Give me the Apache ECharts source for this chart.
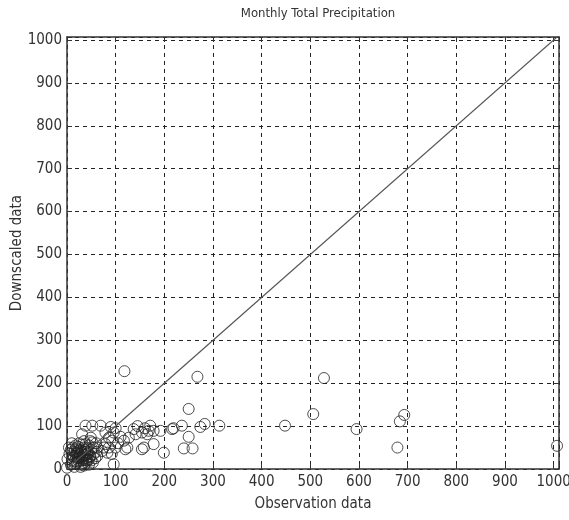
<!DOCTYPE html>
<html>
<head>
<meta charset="utf-8">
<title>Monthly Total Precipitation</title>
<script src="https://cdn.jsdelivr.net/npm/echarts@6/dist/echarts.min.js"></script>
<style>
  html, body { margin: 0; padding: 0; background: #fff; }
  #chart { width: 569px; height: 520px; }
</style>
</head>
<body>
<div id="chart"></div>
<script>
var obsData = [
  118, 268, 528, 250, 236, 274, 283, 313, 250, 240, 258, 448, 506, 595, 693, 684, 679, 1007, 219, 199, 216, 192,
  154, 171, 165, 178, 168, 141, 154, 117, 127, 100, 120, 96, 96, 137, 92, 124, 158, 178, 76, 83,
  38, 52, 69, 31, 49, 79, 86, 93, 62, 72, 79, 86, 4, 1, 0, 160, 145, 110, 105, 90, 100,
  8, 10, 12, 15, 18, 20, 22, 25, 25, 28, 30, 30, 32, 35, 35, 38, 40, 40, 42, 45, 45, 48, 50, 50,
  52, 55, 58, 60, 15, 20, 10, 5, 28, 35, 42, 48, 55, 18, 22, 12, 38, 30, 25, 45, 60, 62, 15, 8,
  14, 17, 21, 24, 27, 31, 34, 37, 41, 44, 19, 26, 33, 29, 23, 36, 16, 39, 47, 53
];
var downData = [
  228, 215, 212, 140, 101, 98, 105, 101, 75, 48, 48, 101, 128, 93, 126, 111, 50, 54, 95, 38, 93, 89,
  85, 101, 81, 89, 89, 81, 46, 66, 73, 50, 46, 11, 85, 93, 35, 50, 50, 58, 50, 38,
  101, 101, 101, 81, 73, 85, 73, 66, 50, 42, 58, 50, 50, 23, 3, 95, 100, 75, 60, 98, 95,
  10, 20, 30, 40, 55, 15, 25, 35, 60, 45, 10, 20, 30, 50, 65, 40, 15, 25, 35, 55, 10, 30, 20, 45,
  62, 35, 25, 40, 5, 48, 60, 35, 5, 8, 48, 65, 50, 30, 42, 50, 58, 38, 25, 22, 60, 30, 18, 45,
  28, 12, 38, 18, 32, 26, 14, 44, 20, 38, 35, 28, 22, 42, 52, 32, 45, 20, 28, 15
];
var oneToOne = [0, 1011];
var tickStep = 100;

var points = obsData.map(function (v, i) { return [v, downData[i]]; });
var lineData = oneToOne.map(function (v) { return [v, v]; });

var labelFont = {
  fontFamily: "'DejaVu Sans Condensed', 'Liberation Sans Narrow', sans-serif",
  fontSize: 15,
  color: '#333'
};
var dashed = { show: true, lineStyle: { color: '#222', type: [4, 4], width: 1 } };
var frame = { show: true, onZero: false, lineStyle: { color: '#333', width: 1.5 } };
var inTick = { show: true, inside: true, length: 5, lineStyle: { color: '#333' } };
var hundredsOnly = function (v) { return v % tickStep === 0 ? String(v) : ''; };

var myChart = echarts.init(document.getElementById('chart'));
myChart.setOption({
  animation: false,
  title: {
    text: 'Monthly Total Precipitation',
    left: 313,
    top: 2,
    textAlign: 'center',
    textStyle: {
      fontFamily: labelFont.fontFamily,
      fontSize: 13,
      fontWeight: 'normal',
      color: '#333'
    }
  },
  grid: { left: 67, right: 10, top: 37, bottom: 51, outerBoundsMode: 'none' },
  xAxis: [
    {
      type: 'value',
      min: 0,
      max: 1011,
      interval: tickStep,
      name: 'Observation data',
      nameLocation: 'middle',
      nameGap: 28,
      nameMoveOverlap: false,
      nameTextStyle: labelFont,
      axisLine: frame,
      axisTick: inTick,
      axisLabel: Object.assign({ margin: 6, formatter: hundredsOnly }, labelFont),
      splitLine: dashed
    },
    {
      type: 'value',
      position: 'top',
      min: 0,
      max: 1011,
      interval: tickStep,
      axisLine: frame,
      axisTick: inTick,
      axisLabel: { show: false },
      splitLine: { show: false }
    }
  ],
  yAxis: [
    {
      type: 'value',
      min: 0,
      max: 1007,
      interval: tickStep,
      name: 'Downscaled data',
      nameLocation: 'middle',
      nameGap: 42,
      nameMoveOverlap: false,
      nameTextStyle: labelFont,
      axisLine: frame,
      axisTick: inTick,
      axisLabel: Object.assign({ margin: 5, formatter: hundredsOnly }, labelFont),
      splitLine: dashed
    },
    {
      type: 'value',
      position: 'right',
      min: 0,
      max: 1007,
      interval: tickStep,
      axisLine: frame,
      axisTick: inTick,
      axisLabel: { show: false },
      splitLine: { show: false }
    }
  ],
  series: [
    {
      type: 'line',
      data: lineData,
      symbol: 'none',
      clip: true,
      lineStyle: { color: '#555', width: 1.2 },
      silent: true
    },
    {
      type: 'scatter',
      data: points,
      symbol: 'circle',
      symbolSize: 11,
      itemStyle: {
        color: 'rgba(255,255,255,0)',
        borderColor: '#222',
        borderWidth: 1
      }
    }
  ]
});
</script>
</body>
</html>
